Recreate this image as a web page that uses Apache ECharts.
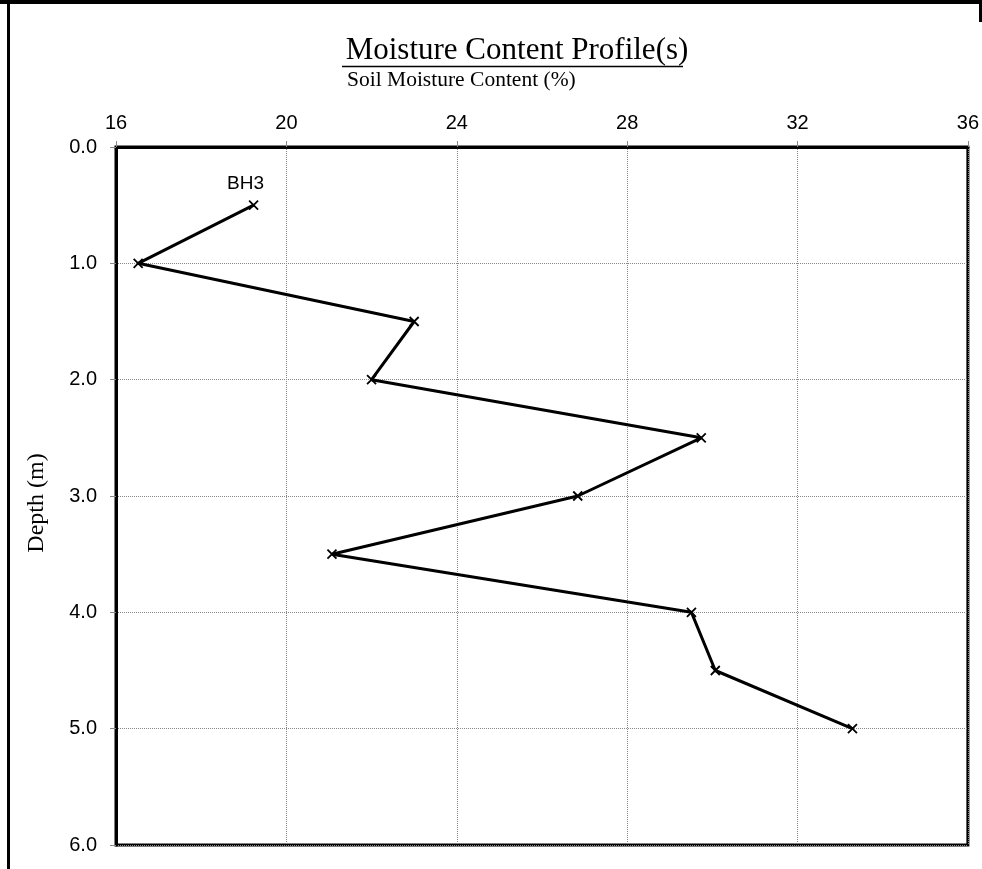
<!DOCTYPE html>
<html>
<head>
<meta charset="utf-8">
<script src="https://cdn.jsdelivr.net/npm/echarts@6/dist/echarts.min.js"></script>
<style>
html,body{margin:0;padding:0;background:#fff;}
#chart{width:982px;height:869px;}
</style>
</head>
<body>
<div id="chart"></div>
<script>
// Data
const depths = [0.5, 1.0, 1.5, 2.0, 2.5, 3.0, 3.5, 4.0, 4.5, 5.0];
const moisture = [19.23, 16.52, 23.0, 22.0, 29.74, 26.84, 21.07, 29.51, 30.07, 33.29];
const seriesName = 'BH3';
const xTicks = [16, 20, 24, 28, 32, 36];
const yTicks = [0, 1, 2, 3, 4, 5, 6];
const titleText = 'Moisture Content Profile(s)';
const xAxisName = 'Soil Moisture Content (%)';
const yAxisName = 'Depth (m)';

const chart = echarts.init(document.getElementById('chart'));
const data = depths.map((d, i) => {
  const item = { value: [moisture[i], d] };
  if (i === 0) {
    item.label = { show: true, position: 'top', distance: 5, offset: [-8, 0],
      formatter: seriesName, fontFamily: 'Liberation Sans, Arial, sans-serif', fontSize: 19, color: '#000' };
  }
  return item;
});

const gridL = 116, gridT = 147, gridW = 854, gridH = 698;
const sans = 'Liberation Sans, Arial, sans-serif';
const serif = 'Liberation Serif, Times New Roman, serif';

chart.setOption({
  animation: false,
  backgroundColor: '#fff',
  title: [
    { text: titleText, left: 512, top: 30, textAlign: 'center',
      textStyle: { fontFamily: serif, fontWeight: 'normal', fontSize: 31, color: '#000' } },
    { text: xAxisName, left: 342, top: 64,
      textStyle: { fontFamily: serif, fontWeight: 'normal', fontSize: 21.5, color: '#000' } }
  ],
  graphic: [
    { type: 'line', shape: { x1: 342, y1: 66.5, x2: 683, y2: 66.5 }, style: { stroke: '#000', lineWidth: 1.5 }, silent: true },
    { type: 'line', shape: { x1: 0, y1: 2, x2: 982, y2: 2 }, style: { stroke: '#000', lineWidth: 4 }, silent: true },
    { type: 'line', shape: { x1: 8.5, y1: 0, x2: 8.5, y2: 869 }, style: { stroke: '#000', lineWidth: 3 }, silent: true },
    { type: 'line', shape: { x1: 980.5, y1: 0, x2: 980.5, y2: 22 }, style: { stroke: '#000', lineWidth: 3 }, silent: true },
    { type: 'text', x: 37, y: 503, rotation: Math.PI / 2,
      style: { text: yAxisName, fontFamily: serif, fontSize: 24, fill: '#000',
        align: 'center', verticalAlign: 'middle' }, silent: true }
  ],
  grid: { left: gridL, top: gridT, width: gridW, height: gridH, show: true, borderColor: '#000', borderWidth: 3, backgroundColor: 'transparent' },
  xAxis: {
    type: 'value', position: 'top', min: xTicks[0], max: xTicks[xTicks.length - 1], interval: 4,
    axisLine: { show: true, lineStyle: { color: '#000', width: 3 } },
    axisTick: { show: true, inside: false, length: 6, lineStyle: { color: '#888', width: 1 } },
    axisLabel: { margin: 14, fontFamily: sans, fontSize: 20, color: '#000' },
    splitLine: { show: true, lineStyle: { color: '#888', type: [1, 1], width: 1 } }
  },
  yAxis: {
    type: 'value', inverse: true, min: yTicks[0], max: yTicks[yTicks.length - 1], interval: 1,
    axisLine: { show: true, lineStyle: { color: '#000', width: 3 } },
    axisTick: { show: true, inside: false, length: 6, lineStyle: { color: '#888', width: 1 } },
    axisLabel: { margin: 19, fontFamily: sans, fontSize: 20, color: '#000',
      formatter: v => v.toFixed(1) },
    splitLine: { show: true, lineStyle: { color: '#888', type: [1, 1], width: 1 } }
  },
  series: [{
    name: seriesName, type: 'line', data: data,
    lineStyle: { color: '#000', width: 3 },
    symbol: 'path://M0,0L10,10M10,0L0,10', symbolSize: 9,
    itemStyle: { color: 'none', borderColor: '#000', borderWidth: 1.8 },
    z: 5
  }]
});
</script>
</body>
</html>
